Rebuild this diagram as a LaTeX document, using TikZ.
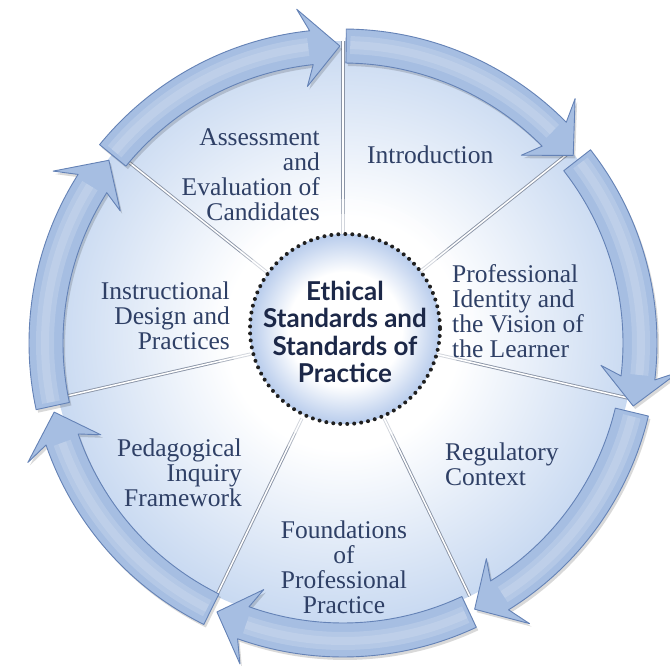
\documentclass[tikz,border=0pt]{standalone}
\usepackage{fontspec}
\setmainfont{Liberation Serif}
\newfontfamily\ctrfont{Lato}
\definecolor{ringfill}{RGB}{166,190,226}
\definecolor{ringline}{RGB}{100,130,182}
\definecolor{secblue}{RGB}{200,217,241}
\definecolor{txt}{RGB}{47,64,102}
\definecolor{ctxt}{RGB}{28,40,72}
\definecolor{cblue}{RGB}{184,204,236}
\definecolor{seam}{RGB}{138,148,166}
\pgfdeclareradialshading{secshade}{\pgfpointorigin}{color(0bp)=(white); color(10bp)=(white); color(25bp)=(secblue); color(50bp)=(secblue)}
\pgfdeclareradialshading{cshade}{\pgfpointorigin}{color(0bp)=(white); color(15bp)=(white); color(25bp)=(cblue); color(50bp)=(cblue)}
\tikzset{
  lab/.style={text=txt, inner sep=0pt, font=\fontsize{25.5}{25}\selectfont},
  ctr/.style={text=ctxt, inner sep=0pt, align=center, font=\ctrfont\bfseries\fontsize{26}{27.5}\selectfont},
  seamline/.style={draw=seam, line width=0.9pt, double=white, double distance=1.5pt},
  ringarrow/.style={fill=ringfill, draw=ringline, line width=0.9pt, line join=round},
  ringshadow/.style={fill=black, opacity=0.15},
  dotring/.style={draw=black!88, line width=4pt, line cap=round, dash pattern=on 0pt off 7pt}
}
\begin{document}
\begin{tikzpicture}[x=1pt,y=-1pt]
\useasboundingbox (0,0) rectangle (670,666);
\fill[white] (0,0) rectangle (670,666);
% sector disc
\shade[shading=secshade] (343,333) circle[radius=292];
% seams between sectors
\begin{scope}[shift={(343,333)}]
\foreach \k in {0,...,6}{
  \pgfmathsetmacro\t{-90+\k*360/7}
  \draw[seamline] (\t:95) -- (\t:292);
}
\end{scope}
% halo round the centre
\fill[white, opacity=0.30] (345,329) circle[radius=130];
\fill[white, opacity=0.45] (345,329) circle[radius=115];
% ring shadow
\begin{scope}[shift={(345,346)}]
\foreach \k in {0,...,6}{
  \pgfmathsetmacro\a{-90+\k*360/7+0.6}
  \pgfmathsetmacro\b{-90+(\k+1)*360/7-0.6}
  \pgfmathsetmacro\h{\b-5.5}
  \pgfmathsetmacro\hb{\h-1.8}
  \path[ringshadow] (\a:280) arc[start angle=\a, end angle=\h, radius=280] -- (\hb:259) -- (\b:297) -- (\hb:337) -- (\h:314) arc[start angle=\h, end angle=\a, radius=314] -- cycle;
}
\end{scope}
% ring arrows
\begin{scope}[shift={(343,343)}]
\foreach \k in {0,...,6}{
  \pgfmathsetmacro\a{-90+\k*360/7+0.6}
  \pgfmathsetmacro\b{-90+(\k+1)*360/7-0.6}
  \pgfmathsetmacro\h{\b-5.5}
  \pgfmathsetmacro\hb{\h-1.8}
  \pgfmathsetmacro\am{\a+0.8}
  \pgfmathsetmacro\hm{\h-0.6}
  \path[ringarrow] (\a:280) arc[start angle=\a, end angle=\h, radius=280] -- (\hb:259) -- (\b:297) -- (\hb:337) -- (\h:314) arc[start angle=\h, end angle=\a, radius=314] -- cycle;
  \draw[white, opacity=0.16, line width=18pt] (\am:298) arc[start angle=\am, end angle=\hm, radius=298];
  \draw[white, opacity=0.14, line width=8pt] (\am:298) arc[start angle=\am, end angle=\hm, radius=298];
}
\end{scope}
% centre circle
\shade[shading=cshade] (345,329) circle[radius=95];
\draw[dotring] (345,329) circle[radius=95];
\node[ctr] (centre) at (345,332) {Ethical\\Standards and\\Standards of\\Practice};
% sector labels
\node[lab, anchor=east, align=right] (assess) at (320,175) {Assessment\\and\\Evaluation of\\Candidates};
\node[lab, anchor=west, align=left] (intro) at (367,155) {Introduction};
\node[lab, anchor=west, align=left] (identity) at (452,311) {Professional\\Identity and\\the Vision of\\the Learner};
\node[lab, anchor=west, align=left] (regul) at (445,464) {Regulatory\\Context};
\node[lab, anchor=center, align=center] (found) at (344,567) {Foundations\\of\\Professional\\Practice};
\node[lab, anchor=east, align=right] (pedag) at (242,473) {Pedagogical\\Inquiry\\Framework};
\node[lab, anchor=east, align=right] (instr) at (230,316) {Instructional\\Design and\\Practices};
\end{tikzpicture}
\end{document}
